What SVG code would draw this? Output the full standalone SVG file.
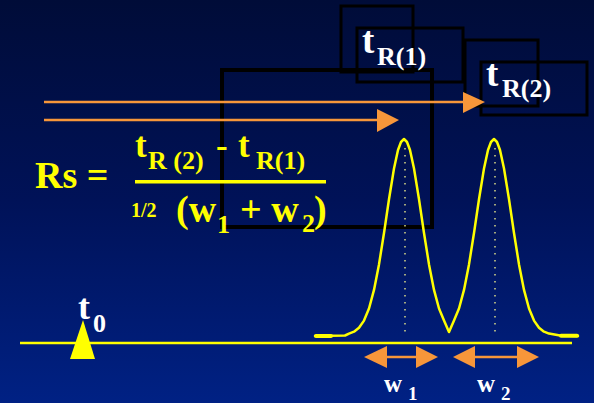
<svg xmlns="http://www.w3.org/2000/svg" width="594" height="403" viewBox="0 0 594 403">
  <defs>
    <linearGradient id="bg" x1="0" y1="0" x2="0" y2="1">
      <stop offset="0" stop-color="#000c38"/>
      <stop offset="0.5" stop-color="#001258"/>
      <stop offset="1" stop-color="#002184"/>
    </linearGradient>
    <style>
      .box { fill: none; stroke: #000; stroke-width: 3; }
      .bigbox { fill: none; stroke: #000; stroke-width: 4; }
      .or { stroke: #f7963a; stroke-width: 2.5; fill: none; }
      .orf { fill: #f7963a; }
      .t { font-family: "Liberation Serif", "Times New Roman", serif; font-weight: bold; }
      .y { fill: #ffff00; }
      .w { fill: #ffffff; }
      .dot { stroke: #e6e68a; stroke-width: 1.4; stroke-dasharray: 1.5 5.5; fill: none; }
    </style>
  </defs>
  <rect x="0" y="0" width="594" height="403" fill="url(#bg)"/>

  <g id="frames">
    <rect class="box" x="341" y="6" width="72" height="66"/>
    <rect class="box" x="357" y="28" width="106" height="54"/>
    <rect class="box" x="465" y="40" width="73" height="66"/>
    <rect class="box" x="481" y="62" width="106" height="53"/>
    <rect class="bigbox" x="222" y="70" width="210" height="157"/>
  </g>

  <g id="connectors">
    <line class="or" x1="44" y1="102" x2="464" y2="102"/>
    <polygon class="orf" points="463,92 485,102 463,113"/>
    <line class="or" x1="44" y1="120" x2="378" y2="120"/>
    <polygon class="orf" points="377,109 399,120 377,132"/>
    <line class="or" x1="386" y1="357" x2="417" y2="357"/>
    <polygon class="orf" points="364,357 387,346 387,368"/>
    <polygon class="orf" points="438,357 416,346 416,368"/>
    <line class="or" x1="474" y1="357" x2="518" y2="357"/>
    <polygon class="orf" points="453,357 475,346 475,368"/>
    <polygon class="orf" points="539,357 517,346 517,368"/>
  </g>

  <g id="chromatogram">
    <line x1="20" y1="343" x2="572" y2="343" stroke="#ffff00" stroke-width="2.5"/>
    <line class="dot" x1="405" y1="148" x2="405" y2="337"/>
    <line class="dot" x1="495" y1="148" x2="495" y2="337"/>
    <path d="M315,336 L345,335.5 L349,333.6 L354,331.7 L359,327.8 L364,320.6 L369,308.5 L374,289.9 L379,264.4 L384,233 L389,199.2 L394,168.5 L398,150 L401,142 L404,139 L407,142 L410,150 L414,168.5 L419,199.2 L424,233 L429,264.4 L434,289.9 L439,308.5 L444,320.6 L449,332 L454,320.6 L459,308.5 L464,289.9 L469,264.4 L474,233 L479,199.2 L484,168.5 L488,150 L491,142 L494,139 L497,142 L500,150 L504,168.5 L509,199.2 L514,233 L519,264.4 L524,289.9 L529,308.5 L534,320.6 L539,327.8 L544,331.7 L549,333.6 L560,335.5 L578,336" fill="none" stroke="#ffff00" stroke-width="2.5" stroke-linejoin="round" stroke-linecap="round"/>
    <line x1="316" y1="336" x2="331" y2="336" stroke="#ffff00" stroke-width="4" stroke-linecap="round"/>
    <line x1="561" y1="335.8" x2="577" y2="335.8" stroke="#ffff00" stroke-width="4" stroke-linecap="round"/>
    <polygon points="83,320 70,359 95,359" fill="#ffff00"/>
  </g>

  <g id="label-t0" class="t w">
    <text x="78" y="319" font-size="36">t</text>
    <text x="93" y="332" font-size="26">0</text>
  </g>

  <g id="label-tR1" class="t w">
    <text x="362" y="53" font-size="37">t</text>
    <text x="377" y="65" font-size="26">R(1)</text>
  </g>

  <g id="label-tR2" class="t w">
    <text x="486" y="86" font-size="37">t</text>
    <text x="502" y="97" font-size="26">R(2)</text>
  </g>

  <g id="label-w1" class="t w">
    <text x="384" y="392" font-size="25">w</text>
    <text x="408" y="400" font-size="19">1</text>
  </g>
  <g id="label-w2" class="t w">
    <text x="477" y="392" font-size="25">w</text>
    <text x="501" y="400" font-size="19">2</text>
  </g>

  <g id="formula" class="t y">
    <text x="35" y="188" font-size="38">Rs =</text>
    <text x="135" y="157" font-size="35">t</text>
    <text x="148" y="169" font-size="26">R (2)</text>
    <text x="216" y="157" font-size="35">-</text>
    <text x="238" y="157" font-size="35">t</text>
    <text x="256" y="169" font-size="26">R(1)</text>
    <rect x="135" y="180" width="191" height="3.5" fill="#ffff00"/>
    <text x="131" y="217" font-size="20">1/2</text>
    <text x="176" y="222" font-size="38">(w</text>
    <text x="217" y="233" font-size="26">1</text>
    <text x="240" y="222" font-size="38">+ w</text>
    <text x="302" y="232" font-size="26">2</text>
    <text x="314" y="222" font-size="38">)</text>
  </g>
</svg>
